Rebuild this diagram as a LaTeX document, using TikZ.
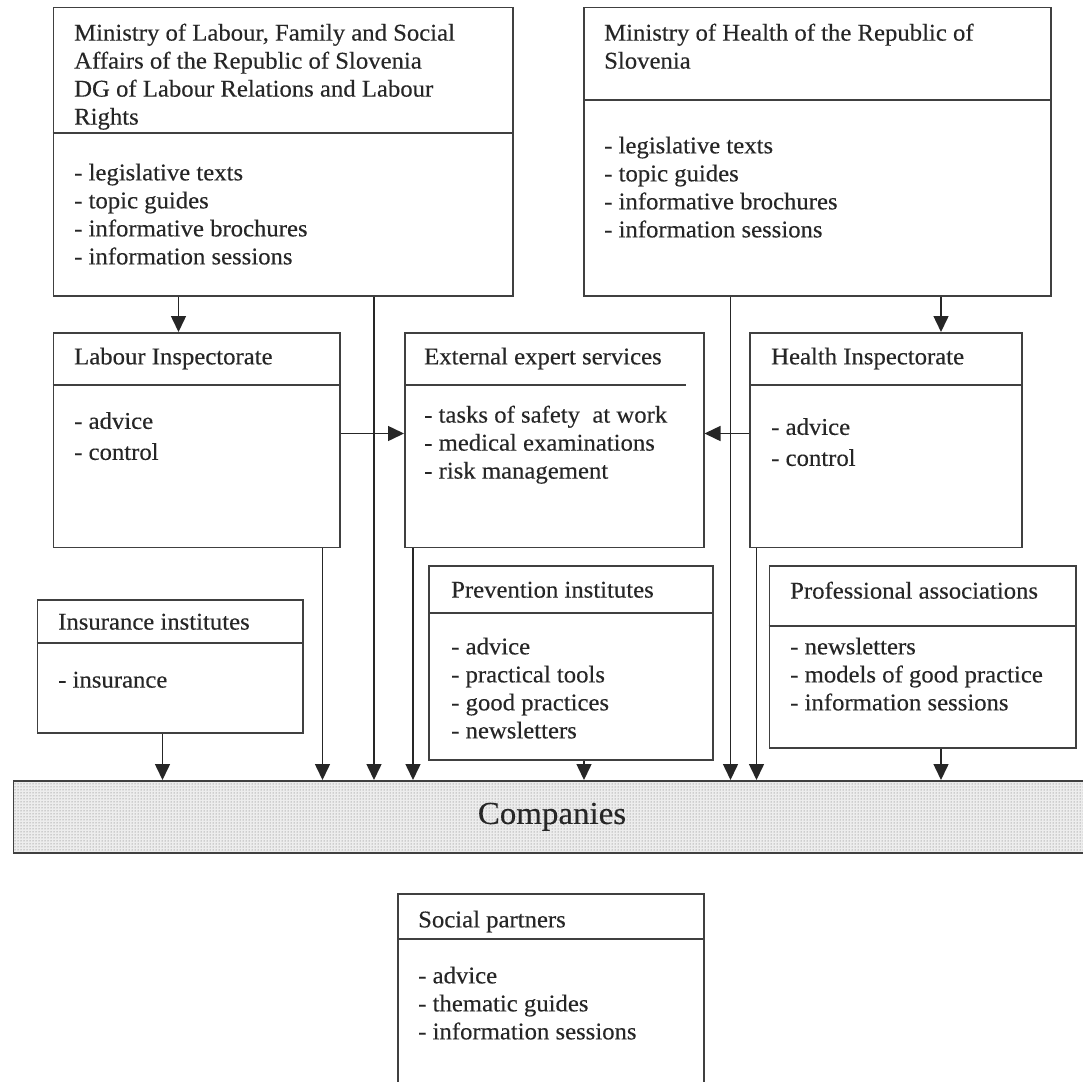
\documentclass[tikz,border=0pt]{standalone}
\usepackage{fontspec}
\setmainfont{Liberation Serif}[FakeStretch=1.03, FakeBold=0.3]
\usetikzlibrary{arrows.meta, patterns}
\tikzset{
    orgbox/.style={draw=black!75, line width=1.5pt, inner sep=0pt, anchor=north west},
    orgline/.style={draw=black!75, line width=1.5pt},
    orgtext/.style={anchor=north west, inner sep=0pt, align=left, text=black!85,
        font=\fontsize{24}{28}\selectfont},
    feed/.style={draw=black!85, line width=1.5pt, -{Triangle[length=16pt, width=15pt]}},
    firms/.style={draw=black!75, line width=1.5pt, inner sep=0pt, anchor=north west,
        preaction={fill=black!7}, pattern=dots, pattern color=black!60,
        font=\fontsize{32}{36}\selectfont, text=black!85},
}
% box with a rule under its title: name, left, top, right, bottom, rule
\newcommand{\OrgBox}[6]{%
    \node[orgbox, minimum width={#4-#2}, minimum height={#5-#3}] (#1) at (#2,#3) {};
    \draw[orgline] (#1.west |- 0,#6) -- (#1.east |- 0,#6);
}
\begin{document}
\begin{tikzpicture}[x=1pt, y=-1pt]
        \useasboundingbox (0,0) rectangle (1083,1081);

        % Boxes (pixel coordinates, y downwards)
        \OrgBox{minlab}{52.5}{7}{512}{295}{133}
        \OrgBox{minhealth}{583}{7}{1050}{295}{100}
        \OrgBox{labinsp}{52.5}{332}{339}{546.5}{385}
        \node[orgbox, minimum width=299pt, minimum height=214.5pt] (external) at (404,332) {};
        \draw[orgline] (external.west |- 0,385) -- (686,385); % rule stops short
        \OrgBox{healthinsp}{749}{332}{1021}{546.5}{385}
        \OrgBox{insurance}{36.5}{599}{302}{732}{643}
        \OrgBox{prevention}{428}{565}{712}{759}{613}
        \OrgBox{professional}{768.5}{565}{1075}{747}{626}
        \OrgBox{social}{397}{893}{703}{1100}{939}
        \node[firms, minimum width=1077.5pt, minimum height=72pt] (companies) at (12.5,780) {Companies};

        % Texts
        \node[orgtext] (minlab-t) at (74,23.5) {Ministry of Labour, Family and Social\\Affairs of the Republic of Slovenia\\DG of Labour Relations and Labour\\Rights};
        \node[orgtext] (minlab-b) at (74,163.5) {- legislative texts\\- topic guides\\- informative brochures\\- information sessions};
        \node[orgtext] (minhealth-t) at (604,23.5) {Ministry of Health of the Republic of\\Slovenia};
        \node[orgtext] (minhealth-b) at (604,136.5) {- legislative texts\\- topic guides\\- informative brochures\\- information sessions};
        \node[orgtext] (labinsp-t) at (74,347.5) {Labour Inspectorate};
        \node[orgtext] (labinsp-b) at (74,412) {- advice\\[3pt]- control};
        \node[orgtext] (external-t) at (424,347.5) {External expert services};
        \node[orgtext] (external-b) at (424,405.5) {- tasks of safety\ \ at work\\- medical examinations\\- risk management};
        \node[orgtext] (healthinsp-t) at (771,347.5) {Health Inspectorate};
        \node[orgtext] (healthinsp-b) at (771,418) {- advice\\[3pt]- control};
        \node[orgtext] (insurance-t) at (58,613.5) {Insurance institutes};
        \node[orgtext] (insurance-b) at (58,671.5) {- insurance};
        \node[orgtext] (prevention-t) at (451,581.5) {Prevention institutes};
        \node[orgtext] (prevention-b) at (451,637.5) {- advice\\- practical tools\\- good practices\\- newsletters};
        \node[orgtext] (professional-t) at (790,581.5) {Professional associations};
        \node[orgtext] (professional-b) at (790,637.5) {- newsletters\\- models of good practice\\- information sessions};
        \node[orgtext] (social-t) at (418,910.5) {Social partners};
        \node[orgtext] (social-b) at (418,966.5) {- advice\\- thematic guides\\- information sessions};

        % Arrows
        \draw[feed] (178.5,0 |- minlab.south) -- (178.5,0 |- labinsp.north);
        \draw[feed] (941,0 |- minhealth.south) -- (941,0 |- healthinsp.north);
        \draw[feed] (labinsp.east |- 0,433.5) -- (external.west |- 0,433.5);
        \draw[feed] (healthinsp.west |- 0,433.5) -- (external.east |- 0,433.5);
        \foreach \xx/\src in {162.5/insurance, 322.5/labinsp, 374/minlab, 413/external,
                584/prevention, 730.5/minhealth, 756.5/healthinsp, 941/professional}
            \draw[feed] (\xx,0 |- \src.south) -- (\xx,0 |- companies.north);
    \end{tikzpicture}
\end{document}
